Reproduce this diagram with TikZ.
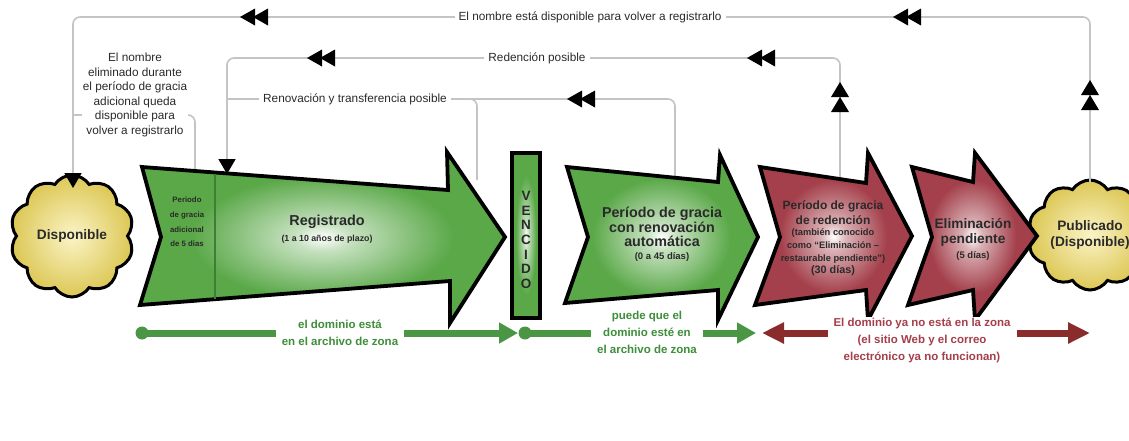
\documentclass[tikz,border=0pt]{standalone}
\usepackage{fontspec}
\setmainfont{Liberation Sans}
\usetikzlibrary{arrows.meta,shapes.symbols}
\definecolor{grn}{HTML}{5AA848}
\definecolor{grndark}{HTML}{3F7E36}
\definecolor{gline}{HTML}{4B9645}
\definecolor{gtext}{HTML}{3E8E3B}
\definecolor{redf}{HTML}{A4404B}
\definecolor{rline}{HTML}{8B2C2C}
\definecolor{rtext}{HTML}{A53F4C}
\definecolor{lgray}{HTML}{C4C4C4}
\definecolor{txt}{HTML}{2A2A2A}
\definecolor{cloudin}{HTML}{FBF4C6}
\definecolor{cloudout}{HTML}{DCC755}
\colorlet{grnmid}{grn!35!white}
\colorlet{redmid}{redf!40!white}
\pgfdeclareradialshading{greenglow}{\pgfpointorigin}{color(0bp)=(white);color(4bp)=(grnmid);color(18bp)=(grn);color(50bp)=(grn)}
\pgfdeclareradialshading{redglow}{\pgfpointorigin}{color(0bp)=(white);color(4bp)=(redmid);color(17bp)=(redf);color(50bp)=(redf)}
\tikzset{
  dblleft/.pic={\fill[black] (0,0) -- (15,-8.5) -- (15,8.5) -- cycle;
                \fill[black] (13,0) -- (28,-8.5) -- (28,8.5) -- cycle;},
  dblup/.pic={\fill[black] (0,0) -- (-9,15) -- (9,15) -- cycle;
              \fill[black] (0,15) -- (-9,30) -- (9,30) -- cycle;}
}
\begin{document}
\begin{tikzpicture}[x=1pt,y=-1pt,
  conn/.style={draw=lgray,line width=1.6,rounded corners=7},
  endtip/.style={-{Triangle[length=15,width=17,color=black]}},
  lbl/.style={fill=white,text=txt,inner xsep=4,inner ysep=1,font=\fontsize{11.8}{14.6}\selectfont},
  shapebox/.style={draw=black,line width=3.8,line join=miter},
  bigtxt/.style={text=txt,align=center,inner sep=0,font=\bfseries\fontsize{14.3}{14.6}\selectfont},
  smalltxt/.style={text=txt,align=center,inner sep=0,font=\bfseries\fontsize{9.3}{13}\selectfont},
  cloudbox/.style={cloud,cloud puffs=10,cloud puff arc=115,cloud ignores aspect,draw=black,line width=3,inner color=cloudin,outer color=cloudout,text=txt,align=center,font=\bfseries\fontsize{13.7}{16}\selectfont},
  gtl/.style={draw=gline,line width=7,-{Triangle[length=19,width=20]}},
  rtl/.style={draw=rline,line width=7,{Triangle[length=22,width=20]}-{Triangle[length=22,width=20]}},
  btxt/.style={fill=white,align=center,inner xsep=6,inner ysep=1,font=\bfseries\fontsize{11.5}{17}\selectfont}
]
\useasboundingbox (0,0) rectangle (1129,440);

% clouds
\node[cloudbox,minimum width=124,minimum height=122] (disp) at (72,236) {Disponible};
\node[cloudbox,minimum width=98,minimum height=110] (pub) at (1090,235) {Publicado\\(Disponible)};

% anchor coordinates
\coordinate (pubtop) at (1090,182);
\coordinate (dispin) at (73,188);
\coordinate (gp5top) at (195,175);
\coordinate (redtop) at (840,178);
\coordinate (regin) at (227,174);
\coordinate (gratop) at (675,180);
\coordinate (vtop) at (477,180);

% grey connectors
\draw[conn,endtip] (pubtop) -- (1090,17) -- (73,17) -- (dispin);
\draw[conn] (gp5top) -- (195,115) -- (73,115);
\draw[conn,endtip] (redtop) -- (840,58) -- (227,58) -- (regin);
\draw[conn] (gratop) -- (675,99) -- (227,99);
\draw[conn] (vtop) -- (477,99) -- (440,99);

% connector labels
\node[lbl] (toplbl) at (590,17) {El nombre está disponible para volver a registrarlo};
\node[lbl] (redlbl) at (537,58) {Redención posible};
\node[lbl] (renlbl) at (355,99) {Renovación y transferencia posible};
\node[lbl,align=center,inner xsep=1] (gp5lbl) at (135,95) {El nombre\\eliminado durante\\el período de gracia\\adicional queda\\disponible para\\volver a registrarlo};

% double arrowheads
\pic at (240,17) {dblleft};
\pic at (893,17) {dblleft};
\pic at (307,58) {dblleft};
\pic at (747,58) {dblleft};
\pic at (567,99) {dblleft};
\pic at (840,82) {dblup};
\pic at (1090,80) {dblup};

% phase shapes
\path[shapebox,shading=greenglow] (142,167) -- (448,190) -- (447,152) -- (505,237) -- (450,323) -- (450,281) -- (140,305) -- (161,237) -- cycle;
\draw[grndark,line width=1.5] (215,174) -- (215,299);
\path[shapebox,shading=greenglow] (512,153) rectangle (540,318);
\path[shapebox,shading=greenglow] (567,167) -- (718,182) -- (720,155) -- (758,237) -- (718,320) -- (718,290) -- (565,303) -- (588,237) -- cycle;
\path[shapebox,shading=redglow] (760,167) -- (866,183) -- (868,153) -- (912,236) -- (868,320) -- (866,290) -- (755,305) -- (780,237) -- cycle;
\path[shapebox,shading=redglow] (912,167) -- (973,182) -- (975,153) -- (1037,236) -- (975,320) -- (973,290) -- (908,305) -- (932,237) -- cycle;

% texts inside shapes
\node[text=txt,align=center,inner sep=0,font=\bfseries\fontsize{7.8}{14.7}\selectfont] (gp5) at (187,222) {Periodo\\de gracia\\adicional\\de 5 dias};
\node[text=txt,inner sep=0,font=\bfseries\fontsize{14.4}{16}\selectfont] (regt) at (327,222) {Registrado};
\node[text=txt,inner sep=0,font=\bfseries\fontsize{8.8}{10}\selectfont] (regs) at (327,239) {(1 a 10 años de plazo)};
\node[text=txt,align=center,inner sep=0,font=\bfseries\fontsize{13.5}{14.7}\selectfont] (venc) at (526,240) {V\\E\\N\\C\\I\\D\\O};
\node[bigtxt] (grt) at (662,227) {Período de gracia\\con renovación\\automática};
\node[text=txt,inner sep=0,font=\bfseries\fontsize{9.5}{11}\selectfont] (grs) at (662,257) {(0 a 45 días)};
\node[text=txt,align=center,inner sep=0,font=\bfseries\fontsize{12}{15}\selectfont] (rdt) at (833,212.5) {Período de gracia\\de redención};
\node[smalltxt] (rds) at (833,246) {(también conocido\\como “Eliminación –\\restaurable pendiente”)};
\node[text=txt,inner sep=0,font=\bfseries\fontsize{10.8}{12}\selectfont] (rdd) at (833,271) {(30 días)};
\node[text=txt,align=center,inner sep=0,font=\bfseries\fontsize{13.7}{14.8}\selectfont] (elt) at (973,232.5) {Eliminación\\pendiente};
\node[text=txt,inner sep=0,font=\bfseries\fontsize{9.5}{11}\selectfont] (els) at (973,256) {(5 días)};

% bottom timeline
\coordinate (gdot1) at (142,333);
\coordinate (gend1) at (518,333);
\coordinate (gdot2) at (525,333);
\coordinate (gend2) at (756,333);
\coordinate (rstart) at (762,333);
\coordinate (rend) at (1090,333);
\draw[gtl] (gdot1) -- (gend1);
\fill[gline] (gdot1) circle (6.5);
\draw[gtl] (gdot2) -- (gend2);
\fill[gline] (gdot2) circle (6.5);
\draw[rtl] (rstart) -- (rend);
\node[btxt,text=gtext] (gz1) at (340,333) {el dominio está\\en el archivo de zona};
\node[btxt,text=gtext] (gz2) at (647,332) {puede que el\\dominio esté en\\el archivo de zona};
\node[btxt,text=rtext] (rz) at (922,340.5) {El dominio ya no está en la zona\\(el sitio Web y el correo\\electrónico ya no funcionan)};
\end{tikzpicture}
\end{document}
